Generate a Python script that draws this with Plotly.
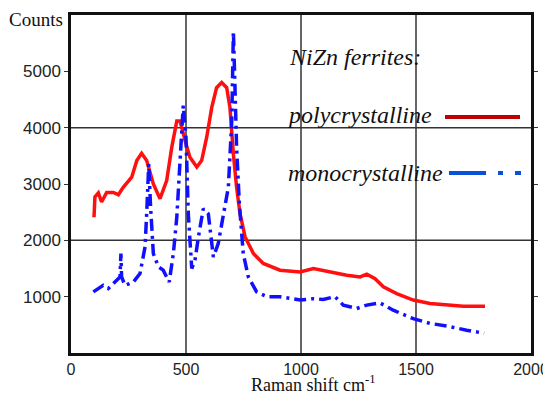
import plotly.graph_objects as go

# ---- data ----
poly_x = [100, 104, 119, 133, 155, 184, 206, 227, 264, 286, 307, 329, 358, 387, 416, 438, 460, 474,
          496, 517, 547, 568, 590, 612, 633, 655, 677, 691, 706, 720, 735, 757, 793, 836, 909, 996,
          1054, 1126, 1199, 1257, 1286, 1322, 1358, 1416, 1488, 1561, 1633, 1706, 1800]
poly_y = [2410, 2770, 2840, 2680, 2850, 2850, 2810, 2940, 3120, 3415, 3545, 3415, 3000, 2740, 3060, 3650, 4120, 4120,
          3770, 3475, 3300, 3415, 3830, 4360, 4710, 4800, 4710, 4360, 3530, 2940, 2470, 2060, 1765, 1590, 1470, 1440,
          1500, 1440, 1380, 1350, 1400, 1320, 1175, 1055, 940, 880, 850, 830, 830]

mono_x = [97, 140, 162, 199, 213, 217, 220, 235, 271, 300, 322, 329, 338, 346, 358, 380, 401, 427, 445, 460,
          474, 488, 500, 510, 525, 539, 554, 575, 597, 612, 619, 640, 662, 684, 699, 706, 713, 720, 732, 749,
          771, 807, 851, 909, 996, 1054, 1097, 1148, 1184, 1242, 1286, 1343, 1401, 1488, 1561, 1633, 1720, 1796]
mono_y = [1085, 1200, 1145, 1290, 1350, 1765, 1350, 1200, 1260, 1410, 1885, 2470, 3355, 2595, 1765, 1530, 1470, 1260, 1765, 2410,
          3355, 4390, 3830, 2470, 1500, 1645, 2060, 2560, 2470, 1885, 1705, 1940, 2470, 2940, 4120, 5715, 4710, 3650, 2650, 1765,
          1350, 1085, 1000, 1000, 940, 965, 950, 1000, 850, 790, 850, 890, 760, 610, 525, 480, 405, 350]

x_ticks = [0, 500, 1000, 1500, 2000]
y_ticks = [1000, 2000, 3000, 4000, 5000]
x_grid = [500, 1000, 1500]
y_grid = [2000, 4000]

legend_title = "NiZn ferrites:"
series_names = ["polycrystalline", "monocrystalline"]

fig = go.Figure()
fig.add_trace(go.Scatter(x=poly_x, y=poly_y, mode="lines", name=series_names[0],
                         line=dict(color="#ff1010", width=3.5), showlegend=False))
fig.add_trace(go.Scatter(x=mono_x, y=mono_y, mode="lines", name=series_names[1],
                         line=dict(color="#1010ff", width=3.5, dash="12px,5px,3px,5px"), showlegend=False))

shapes = []
for gx in x_grid:
    shapes.append(dict(type="line", xref="x", yref="y", x0=gx, x1=gx, y0=0, y1=6000,
                       line=dict(color="#333333", width=1.5), layer="below"))
for gy in y_grid:
    shapes.append(dict(type="line", xref="x", yref="y", x0=0, x1=2000, y0=gy, y1=gy,
                       line=dict(color="#333333", width=1.5), layer="below"))
# white legend panel covering the grid
shapes.append(dict(type="rect", xref="paper", yref="paper", x0=0.428, x1=0.997, y0=0.402, y1=0.997,
                   fillcolor="white", line=dict(width=0), layer="between"))
# legend line samples
shapes.append(dict(type="line", xref="paper", yref="paper", x0=(445 - 71) / 460, x1=(520 - 71) / 460,
                   y0=(353 - 117) / 338, y1=(353 - 117) / 338, line=dict(color="#c00000", width=4)))
shapes.append(dict(type="line", xref="paper", yref="paper", x0=(449 - 71) / 460, x1=(521 - 71) / 460,
                   y0=(353 - 173) / 338, y1=(353 - 173) / 338,
                   line=dict(color="#0a50d8", width=4, dash="37px,12px,5px,12px")))

serif = "Liberation Serif"
annotations = [
    dict(text=f"<i>{legend_title}</i>", xref="paper", yref="paper", x=(287 - 71) / 460, y=(353 - 57) / 338,
         xanchor="left", yanchor="middle", showarrow=False,
         font=dict(family=serif, size=24, color="#111")),
    dict(text=f"<i>{series_names[0]}</i>", xref="paper", yref="paper", x=(285 - 71) / 460, y=(353 - 115) / 338,
         xanchor="left", yanchor="middle", showarrow=False,
         font=dict(family=serif, size=24, color="#111")),
    dict(text=f"<i>{series_names[1]}</i>", xref="paper", yref="paper", x=(286 - 71) / 460, y=(353 - 173) / 338,
         xanchor="left", yanchor="middle", showarrow=False,
         font=dict(family=serif, size=24, color="#111")),
    dict(text="Counts", xref="paper", yref="paper", x=(7 - 71) / 460, y=(353 - 20) / 338,
         xanchor="left", yanchor="middle", showarrow=False,
         font=dict(family=serif, size=19, color="#111")),
    dict(text="Raman shift cm<sup>-1</sup>", xref="paper", yref="paper", x=(313 - 71) / 460, y=(353 - 396) / 338,
         xanchor="center", yanchor="bottom", showarrow=False, borderpad=0,
         font=dict(family=serif, size=18, color="#111")),
]

# the page body adds an 8px offset, so the figure is slightly smaller than the window
fig.update_layout(
    width=543, height=389,
    margin=dict(l=63, r=20, t=7, b=44),
    paper_bgcolor="white", plot_bgcolor="white",
    shapes=shapes, annotations=annotations,
    xaxis=dict(range=[0, 2000], tickvals=x_ticks, showgrid=False, zeroline=False, automargin=False,
               showline=True, linecolor="#111", linewidth=2.5, mirror=True,
               ticks="",
               tickfont=dict(family="Liberation Sans", size=16, color="#222")),
    yaxis=dict(range=[0, 6000], tickvals=y_ticks, showgrid=False, zeroline=False, automargin=False,
               showline=True, linecolor="#111", linewidth=2.5, mirror="ticks",
               ticks="outside", ticklen=4, tickcolor="#333",
               tickfont=dict(family="Liberation Sans", size=17, color="#222")),
)

fig.write_html("out.html")
